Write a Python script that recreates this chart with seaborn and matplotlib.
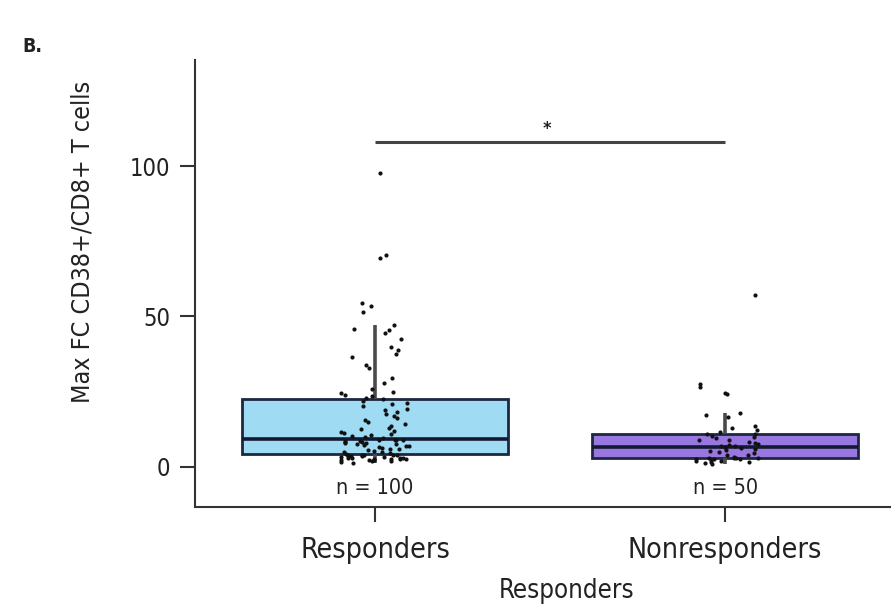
import numpy as np
import pandas as pd
import matplotlib
matplotlib.use("Agg")
import matplotlib.pyplot as plt
import seaborn as sns

# Group names and per-patient max fold change of CD38+/CD8+ T cells
groups = ["Responders", "Nonresponders"]

responders = [
    1.4, 1.6, 1.9, 2.0, 2.2, 2.2, 2.4, 2.5, 2.5, 2.7, 2.8, 2.9, 3.0, 3.1, 3.1,
    3.3, 3.4, 3.5, 3.6, 3.6, 3.8, 3.9, 4.0, 4.0, 4.1,
    4.35, 4.6, 4.9, 5.1, 5.4, 5.6, 5.9, 6.1, 6.3, 6.6, 6.8, 7.0, 7.2, 7.5, 7.7,
    7.9, 8.1, 8.2, 8.4, 8.5, 8.7, 8.8, 8.9, 9.0, 9.1,
    9.5, 9.8, 10.2, 10.5, 10.9, 11.2, 11.6, 12.0, 12.5, 13.0, 13.7, 14.2, 14.9,
    15.5, 16.4, 16.9, 17.5, 18.3, 19.0, 19.3, 20.1, 20.8, 21.4, 22.0, 22.6,
    23.0, 23.5, 24.0, 24.5, 25.0, 26.0, 28.0, 29.5, 33.0, 34.0, 36.5, 37.5,
    39.0, 40.0, 42.5, 44.5, 45.5, 46.0, 47.0, 51.5, 53.5, 54.5, 69.3, 70.3, 97.7,
]

nonresponders = [
    1.0, 1.2, 1.5, 1.8, 2.0, 2.1, 2.3, 2.5, 2.6, 2.8, 2.9, 2.95, 3.0,
    3.0, 3.4, 3.8, 4.1, 4.5, 4.9, 5.3, 5.6, 6.0, 6.2, 6.5, 6.6, 6.8,
    7.0, 7.3, 7.7, 8.0, 8.4, 8.8, 9.1, 9.5, 9.9, 10.3, 10.8,
    11.1, 11.6, 12.2, 12.8, 13.5, 16.5, 17.2, 18.0, 24.2, 24.5, 26.5, 27.5, 57.0,
]

group_colors = ["#A0DBF4", "#9878E0"]
y_ticks = [0, 50, 100]
sig_label = "*"
sig_height = 108

df = pd.DataFrame({
    "group": [groups[0]] * len(responders) + [groups[1]] * len(nonresponders),
    "value": responders + nonresponders,
})
n_labels = [f"n = {(df['group'] == g).sum()}" for g in groups]

sns.set_theme(style="ticks")
plt.rcParams["font.family"] = ["DejaVu Sans"]
plt.rcParams["font.stretch"] = "condensed"
text_color = "#222222"

fig = plt.figure(figsize=(8.91, 6.13), dpi=100)
ax = fig.add_axes([0.219, 0.173, 0.781, 0.729])

sns.boxplot(
    data=df, x="group", y="value", hue="group", order=groups, hue_order=groups,
    palette=group_colors, saturation=1, width=0.76, showfliers=False,
    showcaps=False, linecolor="#1d2740", linewidth=2.0, dodge=False,
    legend=False,
    medianprops=dict(color="#121a33", linewidth=2.6),
    whiskerprops=dict(color="#4a4a4a", linewidth=2.6),
    ax=ax,
)

np.random.seed(11)
sns.stripplot(
    data=df, x="group", y="value", order=groups, color="#111111",
    size=3.0, jitter=0.1, zorder=3, ax=ax,
)

# Group sizes just above the axis
for i, label in enumerate(n_labels):
    ax.text(i, -7, label, ha="center", va="center", fontsize=15.5,
            color=text_color)

# Significance bracket between the two groups
ax.plot([0, 1], [sig_height, sig_height], color="#444444", linewidth=2.2,
        solid_capstyle="butt")
ax.text(0.49, sig_height + 4.2, sig_label, ha="center", va="center",
        fontsize=13, fontweight="bold", color="#222222")

ax.set_xlim(-0.514, 1.474)
ax.set_ylim(-13.3, 135.2)
ax.set_yticks(y_ticks)
ax.set_yticklabels([str(t) for t in y_ticks])

for side in ["top", "right"]:
    ax.spines[side].set_visible(False)
for side in ["left", "bottom"]:
    ax.spines[side].set_linewidth(1.5)
    ax.spines[side].set_color("#333333")

ax.tick_params(axis="both", length=11, width=1.5, color="#333333")
ax.tick_params(axis="y", labelsize=17, labelcolor=text_color, pad=7)
ax.tick_params(axis="x", labelsize=20.5, labelcolor=text_color, pad=10)

ax.set_xlabel("Responders", fontsize=18.5, color=text_color)
ax.set_ylabel("Max FC CD38+/CD8+ T cells", fontsize=18, color=text_color)
ax.xaxis.set_label_coords(0.534, -0.158)
ax.yaxis.set_label_coords(-0.144, 0.593)

fig.text(22 / 891, 1 - 47 / 613, "B.", fontsize=14, fontweight="bold",
         color=text_color, va="center", ha="left")

fig.savefig("out.png", dpi=100)
